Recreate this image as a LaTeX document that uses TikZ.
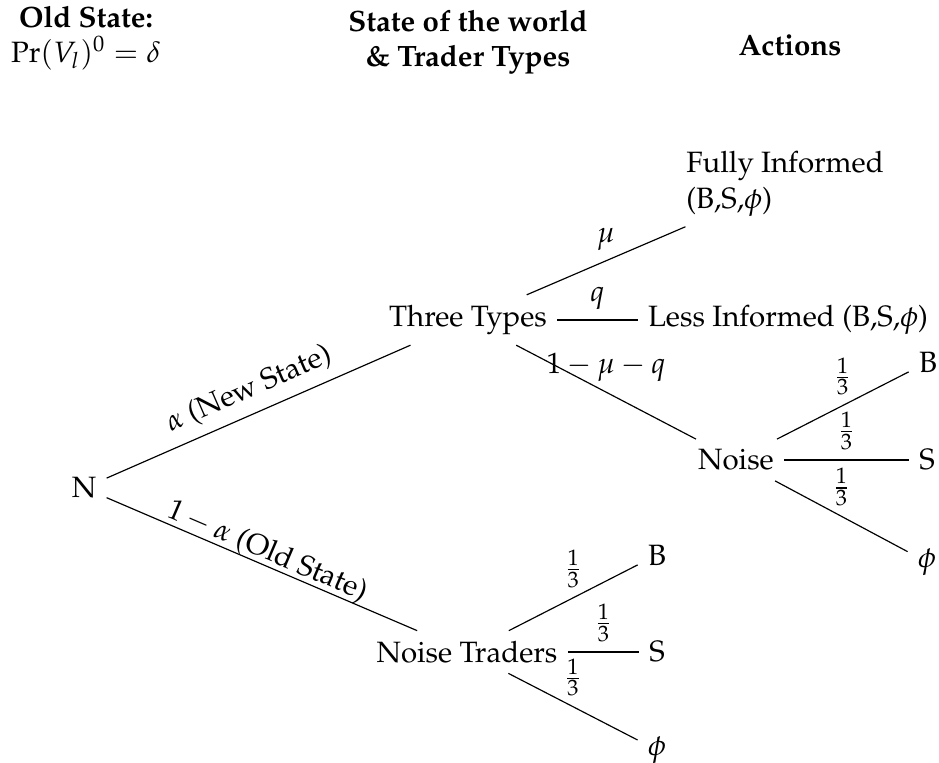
\documentclass[tikz,border=0pt]{standalone}
\usepackage[T1]{fontenc}
\usepackage{mathpazo}
\begin{document}
\begin{tikzpicture}[x=0.34pt,y=-0.34pt]
      \useasboundingbox (0,0) rectangle (939,762);
      \draw
        (86,38) node[align=center] (old){\textbf{Old State:}\\$\Pr(V_l)^0=\delta$}
        (468,42) node[align=center,font=\bfseries] (world){State of the world\\\& Trader Types}
        (790,45) node[font=\bfseries] (act){Actions};
      \draw
        (84,488) node (n){N}
        (468,320) node (tt){Three Types}
        (467,652) node (nt){Noise Traders}
        (785,184) node[align=left] (fi){Fully Informed\\(B,S,$\phi$)}
        (788,320) node (li){Less Informed (B,S,$\phi$)}
        (736,460) node (noise){Noise}
        (928,362) node (b1){B}
        (927,460) node (s1){S}
        (927,562) node (p1){$\phi$}
        (657,555) node (b2){B}
        (657,652) node (s2){S}
        (657,750) node (p2){$\phi$};
      \begin{scope}[-,every node/.style={above}]
        \draw (n) to node[sloped]{$\alpha$ (New State)} (tt);
        \draw (n) to node[sloped,anchor=base,yshift=2pt]{$1-\alpha$ (Old State)} (nt);
        \draw (tt) to node{$\mu$} (fi);
        \draw (tt) to node{$q$} (li);
        \draw (tt) to node{$1-\mu-q$} (noise);
        \draw (noise) to node{$\frac{1}{3}$} (b1);
        \draw (noise) to node{$\frac{1}{3}$} (s1);
        \draw (noise) to node{$\frac{1}{3}$} (p1);
        \draw (nt) to node{$\frac{1}{3}$} (b2);
        \draw (nt) to node{$\frac{1}{3}$} (s2);
        \draw (nt) to node{$\frac{1}{3}$} (p2);
      \end{scope}
    \end{tikzpicture}
\end{document}
